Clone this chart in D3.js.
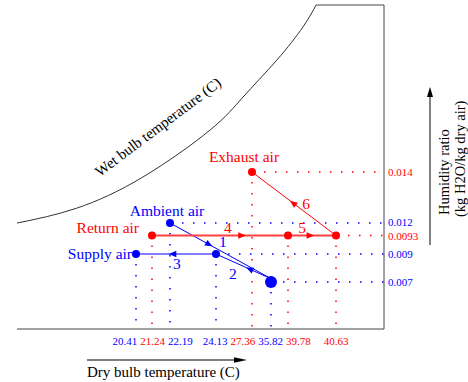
<!DOCTYPE html>
<html>
<head>
<meta charset="utf-8">
<script src="https://cdn.jsdelivr.net/npm/d3@7/dist/d3.min.js"></script>
<style>
body { margin: 0; background: #fff; }
svg text { font-family: 'Liberation Serif', 'DejaVu Serif', serif; }
</style>
</head>
<body>
<svg id="chart" width="468" height="382" font-family="Liberation Serif, DejaVu Serif, serif"></svg>
<script>
// dry bulb temperatures (C) and humidity ratios (kg H2O / kg dry air)
const tempTicks = [20.41, 21.24, 22.19, 24.13, 27.36, 35.82, 39.78, 40.63];
const tempColors = ['blue', 'red', 'blue', 'blue', 'red', 'blue', 'red', 'red'];
const humTicks = [0.007, 0.009, 0.0093, 0.012, 0.014];
const humColors = ['blue', 'blue', 'red', 'blue', 'red'];

// air states
const stateIds = ['supply', 'return', 'ambient', 'cooled', 'exhaust', 'wet', 'mixed', 'heated'];
const stateNames = ['Supply air', 'Return air', 'Ambient air', '', 'Exhaust air', '', '', ''];
const stateTemp = [20.41, 21.24, 22.19, 24.13, 27.36, 35.82, 39.78, 40.63];
const stateHum = [0.009, 0.0093, 0.012, 0.009, 0.014, 0.007, 0.0093, 0.0093];
const stateColor = ['blue', 'red', 'blue', 'blue', 'red', 'blue', 'red', 'red'];

// processes 1..6
const procFrom = ['ambient', 'wet', 'cooled', 'return', 'mixed', 'heated'];
const procTo = ['wet', 'cooled', 'supply', 'mixed', 'heated', 'exhaust'];
const procColor = ['blue', 'blue', 'blue', 'red', 'red', 'red'];

// saturation curve, in frame units (0..1)
const satX = [0, 0.163, 0.343, 0.526, 0.616, 0.708, 0.779, 0.815];
const satY = [0.327, 0.373, 0.469, 0.614, 0.716, 0.830, 0.932, 1.0];

// ---- layout ----
const svg = d3.select('#chart');
const RED = '#ff0000', BLUE = '#0000ff';
const col = c => c === 'red' ? RED : BLUE;

// schematic (non linear) axes
const x = d3.scaleLinear().domain(tempTicks).range([136, 152, 170, 216, 252, 271, 288, 336]);
const y = d3.scaleLinear().domain(humTicks).range([282, 254, 235.5, 223, 172]);
const fx = d3.scaleLinear().domain([0, 1]).range([17, 384]);
const fy = d3.scaleLinear().domain([0, 1]).range([329, 5]);

const states = {};
stateIds.forEach((id, i) => {
    states[id] = {id: id, name: stateNames[i], t: stateTemp[i], w: stateHum[i], color: stateColor[i],
        px: x(stateTemp[i]), py: y(stateHum[i])};
});

// frame + saturation curve
svg.append('path')
    .attr('d', d3.line().x(d => fx(d[0])).y(d => fy(d[1])).curve(d3.curveNatural)(satX.map((v, i) => [v, satY[i]])))
    .attr('fill', 'none').attr('stroke', '#333').attr('stroke-width', 1);
svg.append('path')
    .attr('d', d3.line().x(d => fx(d[0])).y(d => fy(d[1]))([[0.815, 1], [1, 1], [1, 0], [0, 0]]))
    .attr('fill', 'none').attr('stroke', '#444').attr('stroke-width', 1);

svg.append('text')
    .attr('transform', 'translate(161,131) rotate(-37)')
    .attr('text-anchor', 'middle').attr('font-size', 15).attr('fill', '#000')
    .text('Wet bulb temperature (C)');

// dotted guide lines
const guides = svg.append('g').attr('stroke-width', 1.5).attr('stroke-dasharray', '1.5,9.5').attr('fill', 'none');
Object.values(states).forEach(s => {
    guides.append('line')
        .attr('x1', s.px).attr('x2', s.px).attr('y1', s.py + 10).attr('y2', fy(0))
        .attr('stroke', col(s.color));
});
['exhaust', 'ambient', 'heated', 'cooled', 'wet'].forEach(id => {
    const s = states[id];
    guides.append('line')
        .attr('x1', s.px + 12).attr('x2', fx(1)).attr('y1', s.py).attr('y2', s.py)
        .attr('stroke', col(s.color));
});

// process lines
const arrowT = [0.38, 0.4, 0.54, 0.66, 0.46, 0.51];
const labelNudge = [[14, -2.5], [-17, 4.5], [4, 10], [-14, -8], [-8, -8], [13, 0]];
const sideShift = [3, -3, 0, 0, 0, 0];
const lineW = [1, 1, 1.2, 1.8, 1.8, 1];
const procG = svg.append('g');
procFrom.forEach((from, i) => {
    const a = states[from], b = states[procTo[i]];
    let p0 = [a.px, a.py], p1 = [b.px, b.py];
    // lines 1 and 2 run side by side into the wet point
    if (sideShift[i]) {
        const dx = p1[0] - p0[0], dy = p1[1] - p0[1], len = Math.hypot(dx, dy);
        let n = [dy / len, -dx / len];
        if (n[1] > 0) n = [-n[0], -n[1]];
        const s = sideShift[i] * (from === 'wet' ? -1 : 1);
        if (from !== 'wet') p1 = [p1[0] + n[0] * s, p1[1] + n[1] * s];
        else p0 = [p0[0] + n[0] * s, p0[1] + n[1] * s];
    }
    const c = col(procColor[i]);
    procG.append('line')
        .attr('x1', p0[0]).attr('y1', p0[1]).attr('x2', p1[0]).attr('y2', p1[1])
        .attr('stroke', i >= 3 && i <= 4 ? '#ff4040' : c).attr('stroke-width', lineW[i]);
    const t = arrowT[i];
    const ax = p0[0] + (p1[0] - p0[0]) * t, ay = p0[1] + (p1[1] - p0[1]) * t;
    const ang = Math.atan2(p1[1] - p0[1], p1[0] - p0[0]) * 180 / Math.PI;
    procG.append('path')
        .attr('d', 'M4,0L-3.5,-3.2L-3.5,3.2Z')
        .attr('transform', `translate(${ax},${ay}) rotate(${ang})`)
        .attr('fill', c);
    procG.append('text')
        .attr('x', ax + labelNudge[i][0]).attr('y', ay + labelNudge[i][1])
        .attr('dy', '0.35em').attr('text-anchor', 'middle')
        .attr('font-size', 15.5).attr('fill', c)
        .text(i + 1);
});

// state points
svg.append('g').selectAll('circle')
    .data(Object.values(states))
    .join('circle')
    .attr('cx', d => d.px).attr('cy', d => d.py)
    .attr('r', d => d.id === 'wet' ? 6 : 4)
    .attr('fill', d => col(d.color));

// state names
const nameAnchor = {supply: ['end', -4, 5], return: ['end', -13, -2.5], ambient: ['middle', -3, -7], exhaust: ['middle', -8, -10]};
Object.keys(nameAnchor).forEach(id => {
    const s = states[id], a = nameAnchor[id];
    svg.append('text')
        .attr('x', s.px + a[1]).attr('y', s.py + a[2])
        .attr('text-anchor', a[0]).attr('font-size', 15.5).attr('fill', col(s.color))
        .text(s.name);
});

// spread overlapping tick labels apart (items sorted by position)
function spread(items, gap) {
    const sorted = items.slice().sort((a, b) => a.pos - b.pos);
    for (let k = 0; k < 60; k++) {
        for (let i = 1; i < sorted.length; i++) {
            const a = sorted[i - 1], b = sorted[i];
            const need = (a.size + b.size) / 2 + gap - (b.pos - a.pos);
            if (need > 0) { a.pos -= need / 2; b.pos += need / 2; }
        }
    }
}

// x tick labels
const xl = svg.append('g').selectAll('text')
    .data(tempTicks)
    .join('text')
    .attr('y', 345).attr('text-anchor', 'middle').attr('font-size', 11)
    .attr('fill', (d, i) => col(tempColors[i]))
    .text(d => d.toFixed(2));
const xItems = tempTicks.map((d, i) => ({pos: x(d), size: xl.nodes()[i].getComputedTextLength()}));
spread(xItems, 3);
xl.attr('x', (d, i) => xItems[i].pos);

// y tick labels
const yItems = humTicks.map(d => ({pos: y(d), size: 11}));
spread(yItems, 3);
svg.append('g').selectAll('text')
    .data(humTicks)
    .join('text')
    .attr('x', 388).attr('y', (d, i) => yItems[i].pos).attr('dy', '0.35em')
    .attr('font-size', 11)
    .attr('fill', (d, i) => col(humColors[i]))
    .text(d => String(d));

// axis titles with arrows
svg.append('line').attr('x1', 87).attr('x2', 236).attr('y1', 360).attr('y2', 360).attr('stroke', '#000');
svg.append('path').attr('d', 'M247,360L234,357.3L234,362.7Z').attr('fill', '#000');
svg.append('text').attr('x', 87).attr('y', 377).attr('font-size', 15).attr('fill', '#000')
    .text('Dry bulb temperature (C)');

svg.append('line').attr('x1', 430).attr('x2', 430).attr('y1', 245).attr('y2', 96).attr('stroke', '#000');
svg.append('path').attr('d', 'M430,87L427,97L433,97Z').attr('fill', '#000');
svg.append('text').attr('transform', 'translate(449,215) rotate(-90)')
    .attr('font-size', 14.5).attr('fill', '#000').text('Humidity ratio');
svg.append('text').attr('transform', 'translate(465,217) rotate(-90)')
    .attr('font-size', 14.5).attr('fill', '#000').text('(kg H2O/kg dry air)');
</script>
</body>
</html>
